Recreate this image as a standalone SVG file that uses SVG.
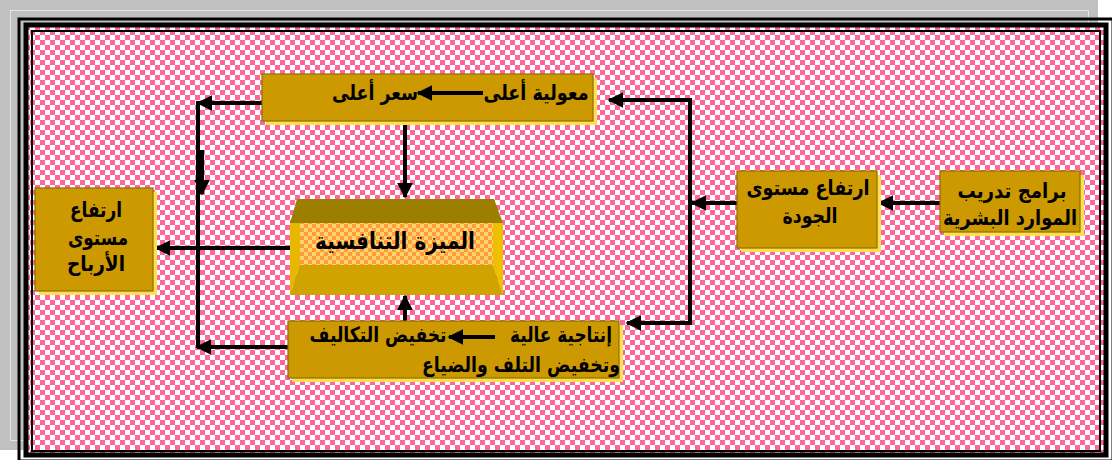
<svg xmlns="http://www.w3.org/2000/svg" width="1112" height="460" viewBox="0 0 1112 460">
<defs>
<pattern id="chk" width="10" height="10" patternUnits="userSpaceOnUse">
<rect width="10" height="10" fill="#FFFFFF"/>
<rect width="5" height="5" fill="#FF6699"/>
<rect x="5" y="5" width="5" height="5" fill="#FF6699"/>
</pattern>
<pattern id="chk2" width="8" height="8" patternUnits="userSpaceOnUse">
<rect width="8" height="8" fill="#FFD56A"/>
<rect width="4" height="4" fill="#FF9A40"/>
<rect x="4" y="4" width="4" height="4" fill="#FF9A40"/>
</pattern>
<marker id="ah" viewBox="0 0 10 10" refX="9" refY="5" markerWidth="4" markerHeight="4" orient="auto" markerUnits="strokeWidth">
<path d="M0,0 L10,5 L0,10 z" fill="#000"/>
</marker>
</defs>
<style>
.box{fill:#CC9900;stroke:#8C7000;stroke-width:1.2}
.sh{fill:#FFDD55}
.t{font-family:"DejaVu Sans",sans-serif;font-weight:bold;font-size:21px;fill:#000;text-anchor:middle}
.c{fill:none;stroke:#000;stroke-width:4}
.a{fill:none;stroke:#000;stroke-width:4;marker-end:url(#ah)}
</style>

<!-- frame -->
<rect x="0" y="0" width="1098" height="450" fill="#C0C0C0"/>
<rect x="10.5" y="10.5" width="1078" height="430" fill="none" stroke="#E4E4E4" stroke-width="1"/>
<rect x="19" y="19" width="1094" height="442" fill="none" stroke="#000" stroke-width="3"/>
<rect x="26" y="25" width="1080" height="430" fill="url(#chk)" stroke="#000" stroke-width="5"/>
<rect x="32" y="31" width="1068" height="420" fill="url(#chk)" stroke="#000" stroke-width="2"/>

<!-- connectors -->
<g id="connectors">
<line class="a" x1="940" y1="203" x2="879" y2="203"/>
<line class="a" x1="737" y1="203" x2="692" y2="203"/>
<polyline class="c" points="690,323 690,100"/>
<line class="a" x1="692" y1="100" x2="609" y2="100"/>
<line class="a" x1="692" y1="323" x2="627" y2="323"/>
<line class="a" x1="405" y1="121" x2="405" y2="197"/>
<line class="a" x1="405" y1="321" x2="405" y2="296"/>
<line class="a" x1="262" y1="103" x2="198" y2="103"/>
<polyline class="c" points="198,101 198,348"/>
<line class="a" x1="202" y1="150" x2="202" y2="194"/>
<line class="a" x1="288" y1="347" x2="197" y2="347"/>
<line class="a" x1="290" y1="248" x2="156" y2="248"/>
</g>

<!-- top box -->
<g id="n-top">
<rect class="sh" x="266" y="78" width="331" height="47"/>
<rect class="box" x="262" y="74" width="331" height="47"/>
<text class="t" x="536" y="100" direction="rtl" textLength="105" lengthAdjust="spacingAndGlyphs">معولية أعلى</text>
<line class="a" x1="483" y1="93" x2="418" y2="93"/>
<text class="t" x="375" y="100" direction="rtl" textLength="86" lengthAdjust="spacingAndGlyphs">سعر أعلى</text>
</g>

<!-- competitive advantage -->
<g id="n-adv">
<polygon points="297,199 494,199 503,223 290,223" fill="#9C7E00"/>
<polygon points="290,223 300,223 300,265 290,295" fill="#E8B800"/>
<polygon points="493,223 503,223 503,295 493,265" fill="#EFC000"/>
<polygon points="300,265 493,265 503,295 290,295" fill="#CFA300"/>
<rect x="300" y="223" width="193" height="42" fill="url(#chk2)"/>
<text class="t" x="395" y="249" style="font-size:24px" direction="rtl" textLength="160" lengthAdjust="spacingAndGlyphs">الميزة التنافسية</text>
</g>

<!-- profits -->
<g id="n-profit">
<rect class="sh" x="39" y="192" width="118" height="103"/>
<rect class="box" x="35" y="188" width="118" height="103"/>
<text class="t" x="96" y="217" direction="rtl" textLength="52" lengthAdjust="spacingAndGlyphs">ارتفاع</text>
<text class="t" x="98" y="245" direction="rtl" textLength="60" lengthAdjust="spacingAndGlyphs">مستوى</text>
<text class="t" x="96" y="271" direction="rtl" textLength="58" lengthAdjust="spacingAndGlyphs">الأرباح</text>
</g>

<!-- quality -->
<g id="n-quality">
<rect class="sh" x="741" y="175" width="140" height="77"/>
<rect class="box" x="737" y="171" width="140" height="77"/>
<text class="t" x="808" y="195" direction="rtl" textLength="123" lengthAdjust="spacingAndGlyphs">ارتفاع مستوى</text>
<text class="t" x="810" y="223" direction="rtl" textLength="55" lengthAdjust="spacingAndGlyphs">الجودة</text>
</g>

<!-- training -->
<g id="n-training">
<rect class="sh" x="944" y="175" width="140" height="61"/>
<rect class="box" x="940" y="171" width="140" height="61"/>
<text class="t" x="1012" y="198" direction="rtl" textLength="109" lengthAdjust="spacingAndGlyphs">برامج تدريب</text>
<text class="t" x="1010" y="225" direction="rtl" textLength="134" lengthAdjust="spacingAndGlyphs">الموارد البشرية</text>
</g>

<!-- bottom box -->
<g id="n-bottom">
<rect class="sh" x="292" y="325" width="331" height="57"/>
<rect class="box" x="288" y="321" width="331" height="57"/>
<text class="t" x="561" y="342" direction="rtl" textLength="102" lengthAdjust="spacingAndGlyphs">إنتاجية عالية</text>
<line class="a" x1="495" y1="337" x2="449" y2="337"/>
<text class="t" x="378" y="342" direction="rtl" textLength="137" lengthAdjust="spacingAndGlyphs">تخفيض التكاليف</text>
<text class="t" x="521" y="372" direction="rtl" textLength="198" lengthAdjust="spacingAndGlyphs">وتخفيض التلف والضياع</text>
</g>
</svg>
